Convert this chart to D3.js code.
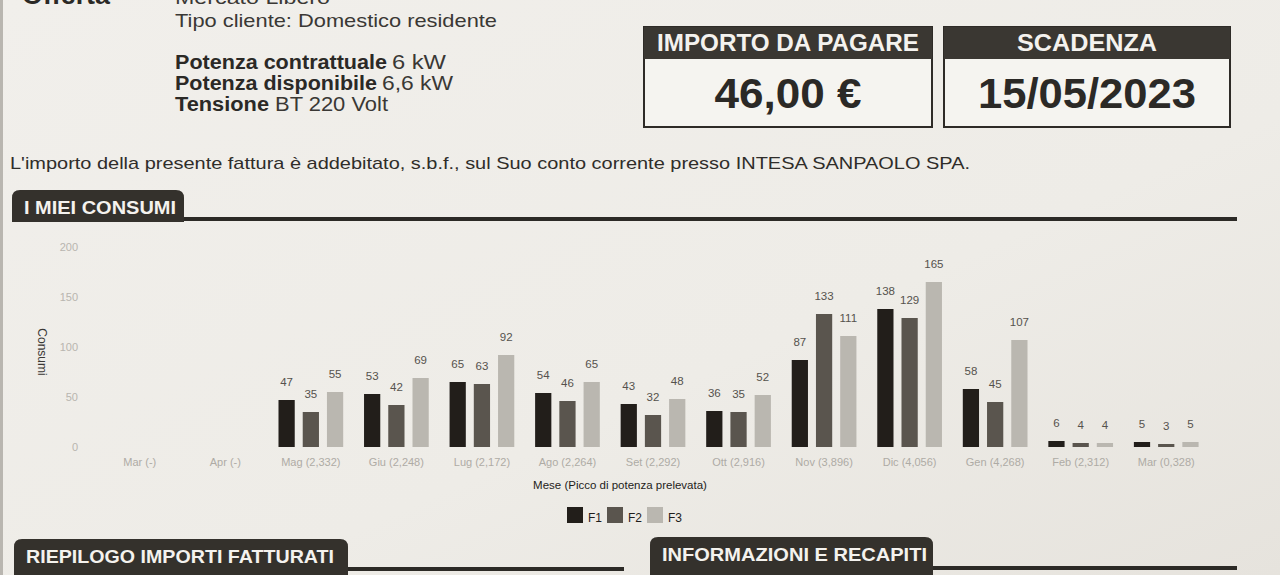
<!DOCTYPE html>
<html>
<head>
<meta charset="utf-8">
<script src="https://cdn.jsdelivr.net/npm/d3@7"></script>
<style>
  html, body { margin: 0; padding: 0; background: #eeece7; overflow: hidden; }
  svg { display: block; }
</style>
</head>
<body>
<svg id="page" width="1280" height="575"></svg>
<script>
// ---- Data ----
const months = ["Mar (-)", "Apr (-)", "Mag (2,332)", "Giu (2,248)", "Lug (2,172)", "Ago (2,264)",
                "Set (2,292)", "Ott (2,916)", "Nov (3,896)", "Dic (4,056)", "Gen (4,268)",
                "Feb (2,312)", "Mar (0,328)"];
const seriesNames = ["F1", "F2", "F3"];
const f1 = [null, null, 47, 53, 65, 54, 43, 36, 87, 138, 58, 6, 5];
const f2 = [null, null, 35, 42, 63, 46, 32, 35, 133, 129, 45, 4, 3];
const f3 = [null, null, 55, 69, 92, 65, 48, 52, 111, 165, 107, 4, 5];
const yTicks = [0, 50, 100, 150, 200];
const seriesColors = ["#221e1a", "#5a554e", "#bab7b0"];

const svg = d3.select("#page");
const FONT = "'Liberation Sans', Arial, sans-serif";

// ---- Paper background ----
const defs = svg.append("defs");
const bg = defs.append("linearGradient").attr("id", "paper").attr("x1", 0).attr("y1", 0).attr("x2", 1).attr("y2", 1);
bg.append("stop").attr("offset", "0%").attr("stop-color", "#f1efeb");
bg.append("stop").attr("offset", "60%").attr("stop-color", "#eeece7");
bg.append("stop").attr("offset", "100%").attr("stop-color", "#e6e3dd");
svg.append("rect").attr("width", 1280).attr("height", 575).attr("fill", "url(#paper)");
svg.append("rect").attr("x", 0).attr("y", 0).attr("width", 3).attr("height", 575).attr("fill", "#b9b6b0");

// ---- Header texts ----
function txt(x, y, s, opts = {}) {
  const t = svg.append("text").attr("x", x).attr("y", y)
    .attr("font-family", opts.family || FONT)
    .attr("font-size", opts.size || 18)
    .attr("font-weight", opts.weight || "normal")
    .attr("fill", opts.fill || "#2b2926")
    .attr("text-anchor", opts.anchor || "start")
    .text(s);
  if (opts.len) t.attr("textLength", opts.len).attr("lengthAdjust", "spacingAndGlyphs");
  return t;
}
txt(22, 4, "Offerta", { size: 26, weight: "bold", len: 88 });
txt(175, 4, "Mercato Libero", { size: 18, len: 155, fill: "#3a3835" });
txt(175, 27, "Tipo cliente: Domestico residente", { size: 19, len: 322, fill: "#3a3835" });

function mixedLine(y, boldPart, rest, boldLen, restX, restLen) {
  txt(175, y, boldPart, { size: 20, weight: "bold", len: boldLen });
  txt(restX, y, rest, { size: 20, len: restLen, fill: "#3a3835" });
}
mixedLine(69, "Potenza contrattuale", "6 kW", 212, 392, 54);
mixedLine(90, "Potenza disponibile", "6,6 kW", 202, 382, 71);
mixedLine(111, "Tensione", "BT 220 Volt", 94, 275, 113);

// ---- Boxes ----
function box(x, w, title, value, titleLen, valueLen) {
  svg.append("rect").attr("x", x).attr("y", 27).attr("width", w).attr("height", 100)
    .attr("fill", "#f5f4f0").attr("stroke", "#2e2b27").attr("stroke-width", 2);
  svg.append("rect").attr("x", x).attr("y", 27).attr("width", w).attr("height", 32).attr("fill", "#3a3732");
  txt(x + w / 2, 51, title, { size: 23, weight: "bold", fill: "#f4f2ee", anchor: "middle", len: titleLen });
  txt(x + w / 2, 108, value, { size: 42, weight: "bold", fill: "#2b2926", anchor: "middle", len: valueLen });
}
box(644, 288, "IMPORTO DA PAGARE", "46,00 €", 262, 147);
box(944, 286, "SCADENZA", "15/05/2023", 140, 218);

txt(10, 169, "L'importo della presente fattura è addebitato, s.b.f., sul Suo conto corrente presso INTESA SANPAOLO SPA.",
    { size: 17, len: 960, fill: "#2f2d2a" });

// ---- Section tabs ----
function tab(x, y, w, h, label, labelLen, lineEnd, lineY, baseY) {
  const r = 8;
  svg.append("path")
    .attr("d", `M${x},${y + h} V${y + r} Q${x},${y} ${x + r},${y} H${x + w - r} Q${x + w},${y} ${x + w},${y + r} V${y + h} Z`)
    .attr("fill", "#34312c");
  svg.append("rect").attr("x", x + w).attr("y", lineY).attr("width", lineEnd - x - w).attr("height", 4).attr("fill", "#2c2a26");
  txt(x + 12, baseY, label, { size: 19, weight: "bold", fill: "#f4f2ee", len: labelLen });
}
tab(12, 190, 172, 32, "I MIEI CONSUMI", 152, 1237, 217, 214);
tab(14, 539, 334, 40, "RIEPILOGO IMPORTI FATTURATI", 308, 624, 567, 563);
tab(650, 537, 283, 40, "INFORMAZIONI E RECAPITI", 265, 1237, 566, 561);

// ---- Chart ----
const x0 = d3.scaleBand().domain(months).range([97, 1209]).paddingInner(0).paddingOuter(0);
const x1 = d3.scaleBand().domain(seriesNames).range([0, x0.bandwidth()]).paddingInner(0.33).paddingOuter(0.43);
const y = d3.scaleLinear().domain([0, 200]).range([447, 247]);

const chart = svg.append("g");

// Y axis (labels only)
const yAxis = d3.axisLeft(y).tickValues(yTicks).tickSize(0).tickPadding(0);
const yg = chart.append("g").attr("transform", "translate(78,0)").call(yAxis);
yg.select(".domain").remove();
yg.selectAll("text").attr("font-family", FONT).attr("font-size", 11).attr("fill", "#b8b5af");

chart.append("text")
  .attr("transform", "translate(38,352) rotate(90)")
  .attr("text-anchor", "middle")
  .attr("font-family", FONT).attr("font-size", 12).attr("fill", "#3a3835")
  .text("Consumi");

// X axis (labels only)
const xAxis = d3.axisBottom(x0).tickSize(0).tickPadding(0);
const xg = chart.append("g").attr("transform", "translate(0,458)").call(xAxis);
xg.select(".domain").remove();
xg.selectAll("text").attr("font-family", FONT).attr("font-size", 11).attr("fill", "#aeaba5").attr("dy", "0.71em");

chart.append("text")
  .attr("x", 620).attr("y", 489).attr("text-anchor", "middle")
  .attr("font-family", FONT).attr("font-size", 11.5).attr("fill", "#1e1c1a")
  .text("Mese (Picco di potenza prelevata)");

// Bars
const seriesData = [f1, f2, f3];
const rows = [];
months.forEach((m, i) => {
  seriesNames.forEach((s, j) => {
    const v = seriesData[j][i];
    if (v !== null) rows.push({ month: m, series: s, value: v, color: seriesColors[j] });
  });
});

chart.selectAll("rect.bar").data(rows).join("rect")
  .attr("class", "bar")
  .attr("x", d => x0(d.month) + x1(d.series))
  .attr("y", d => y(d.value))
  .attr("width", x1.bandwidth())
  .attr("height", d => y(0) - y(d.value))
  .attr("fill", d => d.color);

chart.selectAll("text.val").data(rows).join("text")
  .attr("class", "val")
  .attr("x", d => x0(d.month) + x1(d.series) + x1.bandwidth() / 2)
  .attr("y", d => y(d.value) - 14)
  .attr("text-anchor", "middle")
  .attr("font-family", FONT).attr("font-size", 11.5).attr("fill", "#55524d")
  .text(d => d.value);

// Legend
const legend = chart.append("g").attr("transform", "translate(567,507)");
const legendX = [0, 40, 80];
seriesNames.forEach((s, j) => {
  legend.append("rect").attr("x", legendX[j]).attr("y", 0).attr("width", 16).attr("height", 16).attr("fill", seriesColors[j]);
  legend.append("text").attr("x", legendX[j] + 21).attr("y", 15)
    .attr("font-family", FONT).attr("font-size", 12).attr("fill", "#1e1c1a").text(s);
});
</script>
</body>
</html>
